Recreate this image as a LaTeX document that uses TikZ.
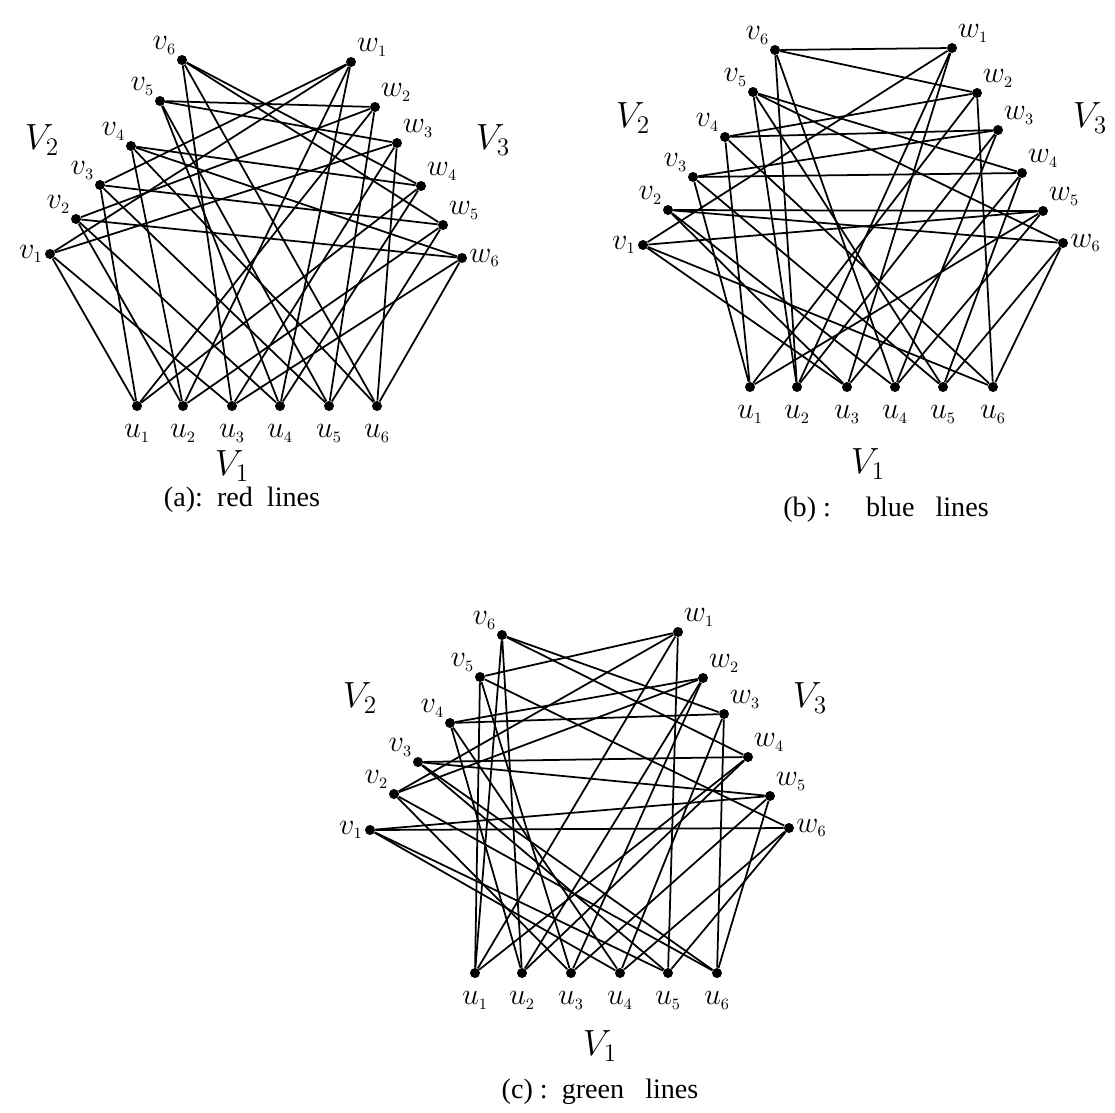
\documentclass[tikz,border=0pt]{standalone}
\usepackage{fontspec}
\setmainfont{Liberation Serif}
\tikzstyle{vertex} = [circle, fill=black, inner sep=0pt, minimum size=0.2cm]
\tikzstyle{lbl} = [font=\fontsize{19}{19}\selectfont, inner sep=1pt, label distance=0pt]
\tikzstyle{lowlbl} = [lbl, label distance=0.22cm]
\tikzstyle{part} = [font=\fontsize{21}{21}\selectfont, inner sep=0pt]
\tikzstyle{caption} = [font=\fontsize{16}{16}\selectfont, inner sep=0pt]
\tikzstyle{line} = [line width=1pt]
\newcommand{\vl}[1]{$v_{\scriptscriptstyle #1}$}
\newcommand{\wl}[1]{$w_{\scriptscriptstyle #1}$}
\newcommand{\ul}[1]{$u_{\scriptscriptstyle #1}$}

\begin{document}
\begin{tikzpicture}[x=0.02cm,y=-0.02cm]
    \useasboundingbox (0,0) rectangle (1115,1112);

    % (a) red lines
    \node[vertex, label={[lbl]above left:\vl{6}}] (av6) at (182,60) {};
    \node[vertex, label={[lbl]above left:\vl{5}}] (av5) at (160,101) {};
    \node[vertex, label={[lbl]above left:\vl{4}}] (av4) at (131,146) {};
    \node[vertex, label={[lbl]above left:\vl{3}}] (av3) at (100,185) {};
    \node[vertex, label={[lbl]above left:\vl{2}}] (av2) at (76,219) {};
    \node[vertex, label={[lbl]left:\vl{1}}] (av1) at (50,254) {};
    \node[vertex, label={[lbl]above right:\wl{1}}] (aw1) at (351,62) {};
    \node[vertex, label={[lbl]above right:\wl{2}}] (aw2) at (375,107) {};
    \node[vertex, label={[lbl]above right:\wl{3}}] (aw3) at (397,143) {};
    \node[vertex, label={[lbl]above right:\wl{4}}] (aw4) at (421,186) {};
    \node[vertex, label={[lbl]above right:\wl{5}}] (aw5) at (443,225) {};
    \node[vertex, label={[lbl]right:\wl{6}}] (aw6) at (462,258) {};
    \node[vertex, label={[lowlbl]below:\ul{1}}] (au1) at (137,406) {};
    \node[vertex, label={[lowlbl]below:\ul{2}}] (au2) at (183,406) {};
    \node[vertex, label={[lowlbl]below:\ul{3}}] (au3) at (232,406) {};
    \node[vertex, label={[lowlbl]below:\ul{4}}] (au4) at (280,406) {};
    \node[vertex, label={[lowlbl]below:\ul{5}}] (au5) at (329,406) {};
    \node[vertex, label={[lowlbl]below:\ul{6}}] (au6) at (377,406) {};
    \node[part] (aV2) at (42,140) {$V_2$};
    \node[part] (aV3) at (493,140) {$V_3$};
    \node[part] (aV1) at (232,466) {$V_1$};
    \node[caption] (acap) at (242,500) {(a):\, red\ \ lines};

    \foreach \s/\t in {v6/w4,v6/w5,v5/w2,v5/w3,v4/w4,v4/w6,v3/w1,v3/w5,v2/w2,v2/w6,v1/w1,v1/w3,
                       v1/u1,v1/u3,v2/u2,v2/u4,v3/u1,v3/u5,v4/u2,v4/u6,v5/u4,v5/u5,v6/u3,v6/u6,
                       w1/u2,w1/u4,w2/u1,w2/u5,w3/u3,w3/u6,w4/u1,w4/u4,w5/u2,w5/u5,w6/u3,w6/u6}
        \draw[line] (a\s) -- (a\t);

    % (b) blue lines
    \node[vertex, label={[lbl]above left:\vl{6}}] (bv6) at (775,50) {};
    \node[vertex, label={[lbl]above left:\vl{5}}] (bv5) at (753,92) {};
    \node[vertex, label={[lbl]above left:\vl{4}}] (bv4) at (725,137) {};
    \node[vertex, label={[lbl]above left:\vl{3}}] (bv3) at (693,177) {};
    \node[vertex, label={[lbl]above left:\vl{2}}] (bv2) at (668,210) {};
    \node[vertex, label={[lbl]left:\vl{1}}] (bv1) at (643,245) {};
    \node[vertex, label={[lbl]above right:\wl{1}}] (bw1) at (952,48) {};
    \node[vertex, label={[lbl]above right:\wl{2}}] (bw2) at (977,93) {};
    \node[vertex, label={[lbl]above right:\wl{3}}] (bw3) at (998,130) {};
    \node[vertex, label={[lbl]above right:\wl{4}}] (bw4) at (1022,173) {};
    \node[vertex, label={[lbl]above right:\wl{5}}] (bw5) at (1043,211) {};
    \node[vertex, label={[lbl]right:\wl{6}}] (bw6) at (1063,243) {};
    \node[vertex, label={[lowlbl]below:\ul{1}}] (bu1) at (750,387) {};
    \node[vertex, label={[lowlbl]below:\ul{2}}] (bu2) at (797,387) {};
    \node[vertex, label={[lowlbl]below:\ul{3}}] (bu3) at (847,387) {};
    \node[vertex, label={[lowlbl]below:\ul{4}}] (bu4) at (895,387) {};
    \node[vertex, label={[lowlbl]below:\ul{5}}] (bu5) at (943,387) {};
    \node[vertex, label={[lowlbl]below:\ul{6}}] (bu6) at (993,387) {};
    \node[part] (bV2) at (633,118) {$V_2$};
    \node[part] (bV3) at (1090,118) {$V_3$};
    \node[part] (bV1) at (868,464) {$V_1$};
    \node[caption] (bcap) at (886,510) {(b) :\quad\ blue\ \ \ lines};

    \foreach \s/\t in {v6/w1,v6/w2,v5/w4,v5/w6,v4/w2,v4/w3,v3/w3,v3/w4,v2/w5,v2/w6,v1/w1,v1/w5,
                       v6/u2,v6/u4,v5/u2,v5/u5,v4/u1,v4/u6,v3/u1,v3/u5,v2/u3,v2/u4,v1/u3,v1/u6,
                       w1/u2,w1/u3,w2/u6,w2/u1,w3/u4,w3/u2,w4/u5,w4/u3,w5/u1,w5/u4,w6/u5,w6/u6}
        \draw[line] (b\s) -- (b\t);

    % (c) green lines
    \node[vertex, label={[lbl]above left:\vl{6}}] (cv6) at (502,635) {};
    \node[vertex, label={[lbl]above left:\vl{5}}] (cv5) at (480,677) {};
    \node[vertex, label={[lbl]above left:\vl{4}}] (cv4) at (450,723) {};
    \node[vertex, label={[lbl]above left:\vl{3}}] (cv3) at (418,762) {};
    \node[vertex, label={[lbl]above left:\vl{2}}] (cv2) at (394,794) {};
    \node[vertex, label={[lbl]left:\vl{1}}] (cv1) at (370,830) {};
    \node[vertex, label={[lbl]above right:\wl{1}}] (cw1) at (678,632) {};
    \node[vertex, label={[lbl]above right:\wl{2}}] (cw2) at (703,678) {};
    \node[vertex, label={[lbl]above right:\wl{3}}] (cw3) at (724,714) {};
    \node[vertex, label={[lbl]above right:\wl{4}}] (cw4) at (748,757) {};
    \node[vertex, label={[lbl]above right:\wl{5}}] (cw5) at (770,796) {};
    \node[vertex, label={[lbl]right:\wl{6}}] (cw6) at (789,828) {};
    \node[vertex, label={[lowlbl]below:\ul{1}}] (cu1) at (475,973) {};
    \node[vertex, label={[lowlbl]below:\ul{2}}] (cu2) at (522,973) {};
    \node[vertex, label={[lowlbl]below:\ul{3}}] (cu3) at (571,973) {};
    \node[vertex, label={[lowlbl]below:\ul{4}}] (cu4) at (620,973) {};
    \node[vertex, label={[lowlbl]below:\ul{5}}] (cu5) at (668,973) {};
    \node[vertex, label={[lowlbl]below:\ul{6}}] (cu6) at (717,973) {};
    \node[part] (cV2) at (360,698) {$V_2$};
    \node[part] (cV3) at (810,698) {$V_3$};
    \node[part] (cV1) at (600,1046) {$V_1$};
    \node[caption] (ccap) at (600,1092) {(c) :\ \ green\ \ \ lines};

    \foreach \s/\t in {v1/w6,v1/w5,v2/w2,v2/w1,v3/w4,v3/w5,v4/w3,v4/w2,v5/w1,v5/w6,v6/w3,v6/w4,
                       v1/u4,v1/u5,v2/u3,v2/u6,v3/u5,v3/u6,v4/u2,v4/u4,v5/u1,v5/u3,v6/u2,v6/u1,
                       w1/u5,w1/u1,w2/u3,w2/u2,w3/u4,w3/u6,w4/u2,w4/u1,w5/u3,w5/u6,w6/u4,w6/u5}
        \draw[line] (c\s) -- (c\t);

\end{tikzpicture}
\end{document}
